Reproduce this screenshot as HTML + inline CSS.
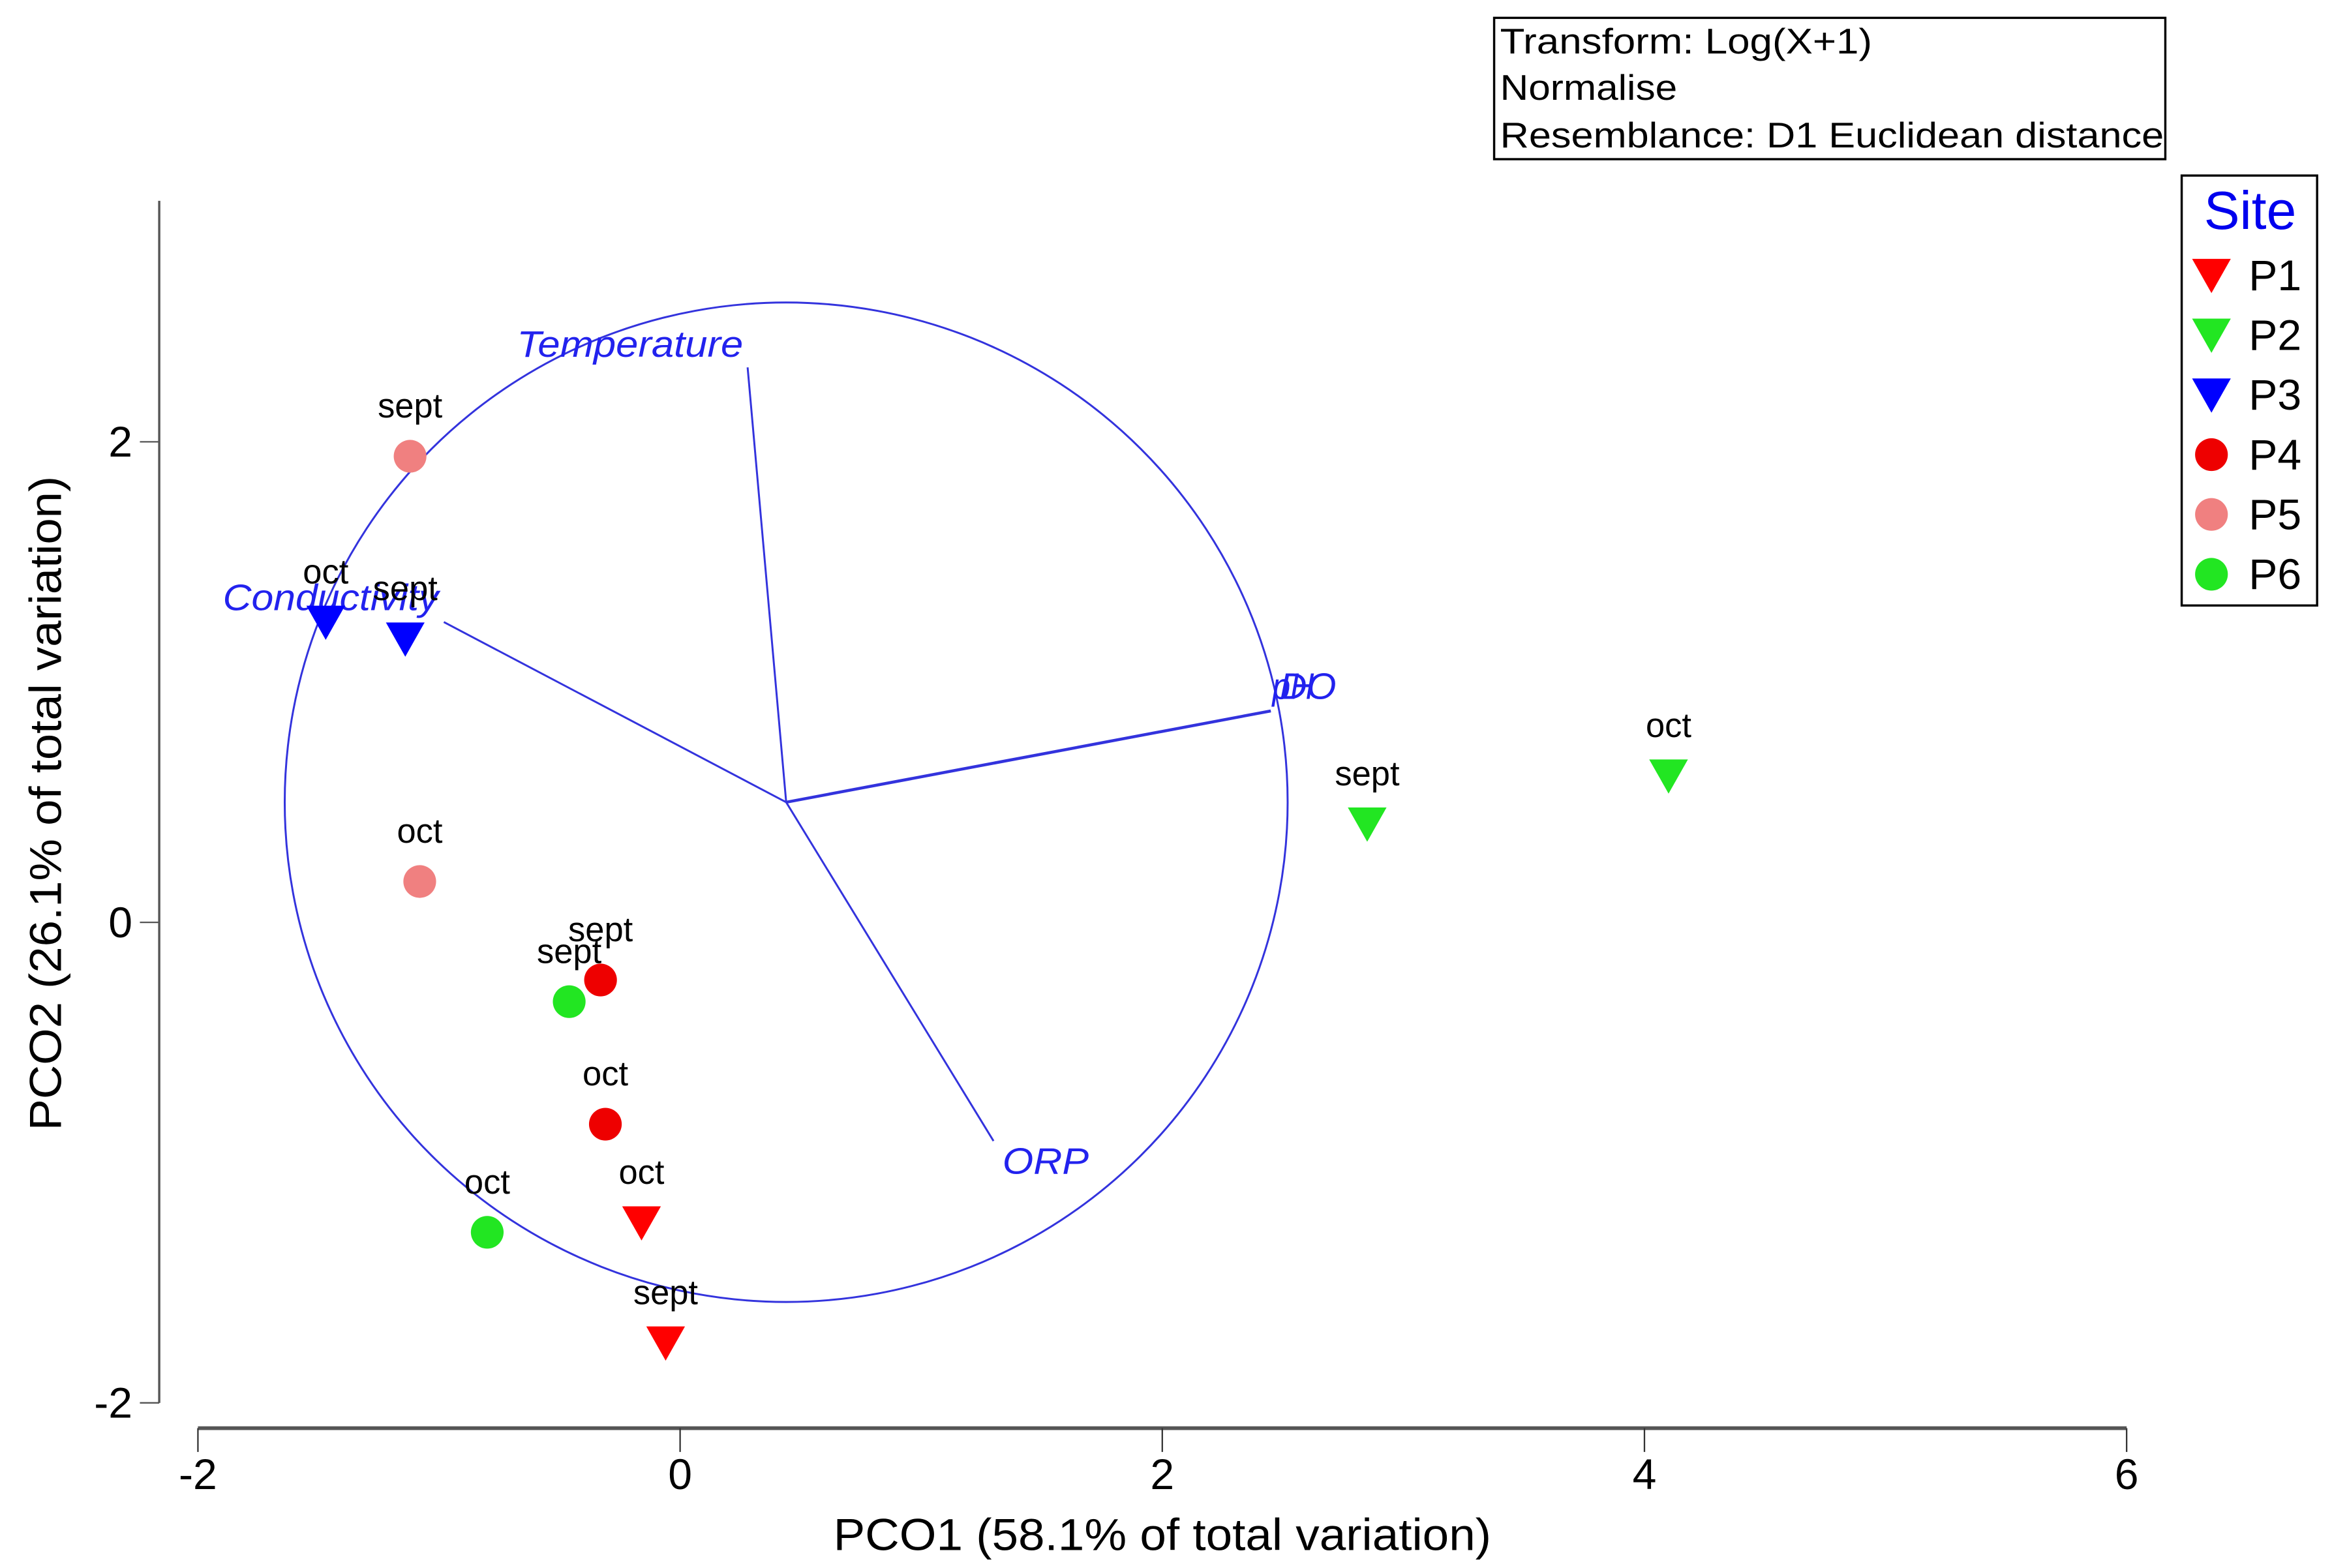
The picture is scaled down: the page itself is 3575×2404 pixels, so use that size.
<!DOCTYPE html>
<html><head><meta charset="utf-8"><style>
html,body{margin:0;padding:0;background:#fff;}
svg{display:block;}
text{font-family:"Liberation Sans",Arial,sans-serif;}
</style></head><body>
<svg id="chart" width="3575" height="2404" viewBox="0 0 1567 1054" preserveAspectRatio="none" xmlns="http://www.w3.org/2000/svg">
<g id="axes"></g>
<g id="vectors"></g>
<g id="points"></g>
<g id="info">
<rect x="1004" y="12" width="451" height="95" fill="none" stroke="#000" stroke-width="1.5"/>
<text x="1008" y="36" font-size="24" textLength="250" lengthAdjust="spacingAndGlyphs">Transform: Log(X+1)</text>
<text x="1008" y="67" font-size="24" textLength="119" lengthAdjust="spacingAndGlyphs">Normalise</text>
<text x="1008" y="99" font-size="24" textLength="446" lengthAdjust="spacingAndGlyphs">Resemblance: D1 Euclidean distance</text>
</g>
<g id="legend">
<rect x="1466" y="118" width="91" height="289" fill="none" stroke="#000" stroke-width="1.5"/>
<text x="1512" y="154" font-size="36" fill="#0000ee" text-anchor="middle">Site</text>
</g>
<text x="781" y="1042" font-size="30" text-anchor="middle" textLength="442" lengthAdjust="spacingAndGlyphs">PCO1 (58.1% of total variation)</text>
<text transform="translate(41,540) rotate(-90)" font-size="30" text-anchor="middle" textLength="440" lengthAdjust="spacingAndGlyphs">PCO2 (26.1% of total variation)</text>
</svg>
<script>
const sites = ["P1","P2","P3","P4","P5","P6"];
const siteColors = ["#ff0000","#22e622","#0000ff","#ee0000","#f08080","#22e622"];
const siteShapes = ["tri","tri","tri","circ","circ","circ"];
const pointSite = ["P5","P3","P3","P5","P4","P6","P4","P1","P6","P1","P2","P2"];
const pointLabel = ["sept","oct","sept","oct","sept","sept","oct","oct","oct","sept","sept","oct"];
const pointX = [-1.12,-1.47,-1.14,-1.08,-0.33,-0.46,-0.31,-0.16,-0.80,-0.06,2.85,4.10];
const pointY = [1.94,1.25,1.18,0.17,-0.24,-0.33,-0.84,-1.25,-1.29,-1.75,0.41,0.61];
const xTicks = [-2,0,2,4,6];
const yTicks = [-2,0,2];
const vecNames = ["Temperature","Conductivity","DO","pH","ORP"];
const vecX = [0.28,-0.98,2.45,2.45,1.30];
const vecY = [2.31,1.25,0.88,0.88,-0.91];
const circleCenter = [0.44,0.50];
const circleRadius = 2.08;

const NS="http://www.w3.org/2000/svg";
const X = v => 457 + v*162;
const Y = v => 620 - v*161.5;
function mk(tag, attrs, parent, txt){const e=document.createElementNS(NS,tag);for(const k in attrs)e.setAttribute(k,attrs[k]);if(txt!==undefined)e.textContent=txt;parent.appendChild(e);return e;}
const axes=document.getElementById('axes');
let e=mk('line',{x1:133,y1:960,x2:1429,y2:960,stroke:'#555','stroke-width':2.5},axes);


e=mk('line',{x1:107,y1:135,x2:107,y2:Y(-2),stroke:'#555','stroke-width':1.5},axes);


xTicks.forEach(t=>{
  mk('line',{x1:X(t),y1:960,x2:X(t),y2:976,stroke:'#333','stroke-width':1},axes);
  e=mk('text',{x:X(t),y:1001,'font-size':29,'text-anchor':'middle'},axes,String(t));
  
  
});
yTicks.forEach(t=>{
  mk('line',{x1:94,y1:Y(t),x2:107,y2:Y(t),stroke:'#555','stroke-width':1},axes);
  e=mk('text',{x:89,y:Y(t)+10,'font-size':29,'text-anchor':'end'},axes,String(t));
  
  
});
const vg=document.getElementById('vectors');
const cx=X(circleCenter[0]), cy=Y(circleCenter[1]);
e=mk('ellipse',{cx:cx,cy:cy,rx:circleRadius*162,ry:circleRadius*161.5,fill:'none',stroke:'#3333dd','stroke-width':1.3},vg);


const labOff={Temperature:[-79,-7,'middle',152],Conductivity:[-76,-8,'middle',145],DO:[6,-8,'start',38],pH:[1,-8,'start',28],ORP:[6,22,'start',58]};
vecNames.forEach((n,i)=>{
  const ex=X(vecX[i]), ey=Y(vecY[i]);
  e=mk('line',{x1:cx,y1:cy,x2:ex,y2:ey,stroke:'#3333dd','stroke-width':n==='DO'?2:1.3},vg);
  
  
  const o=labOff[n];
  e=mk('text',{x:ex+o[0],y:ey+o[1],'font-size':25,'font-style':'italic',fill:'#2222ee','text-anchor':o[2],textLength:o[3],lengthAdjust:'spacingAndGlyphs'},vg,n);
  
  
});
function marker(shape,color,x,y,parent){
  if(shape==='tri') return mk('polygon',{points:`${x-13},${y-11} ${x+13},${y-11} ${x},${y+12}`,fill:color},parent);
  return mk('circle',{cx:x,cy:y,r:11,fill:color},parent);
}
const pg=document.getElementById('points');
pointX.forEach((v,i)=>{
  const si=sites.indexOf(pointSite[i]);
  const px=X(v), py=Y(pointY[i]);
  e=marker(siteShapes[si],siteColors[si],px,py,pg);
  
  
  e=mk('text',{x:px,y:py-26,'font-size':23,'text-anchor':'middle'},pg,pointLabel[i]);
  
  
});
const lg=document.getElementById('legend');
sites.forEach((s,i)=>{
  const y=185+i*40.2;
  e=marker(siteShapes[i],siteColors[i],1486,y,lg);
  
  
  e=mk('text',{x:1511,y:y+10,'font-size':29},lg,s);
  
  
});
</script>
</body></html>
